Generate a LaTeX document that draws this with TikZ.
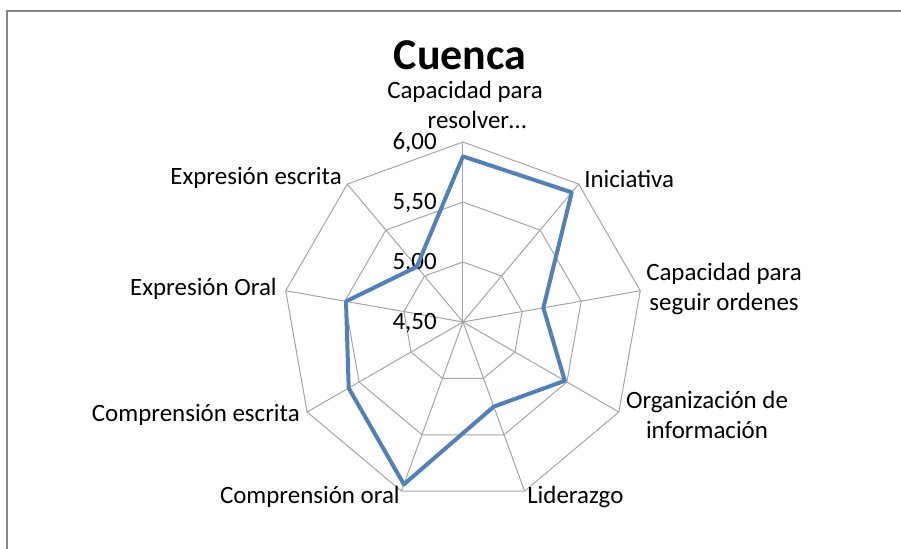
\documentclass[tikz,border=0pt]{standalone}
\usepackage{fontspec}
\setmainfont{Carlito}
\usetikzlibrary{positioning}
\definecolor{gridgray}{RGB}{165,165,165}
\definecolor{framegray}{RGB}{134,134,134}
\definecolor{serieblue}{RGB}{79,129,189}
\newcommand{\lblfont}{\fontsize{18.7}{22}\selectfont}

\begin{document}
\begin{tikzpicture}[x=0.75pt,y=0.75pt,
    gridline/.style={gridgray,line width=0.75pt},
    axislabel/.style={font=\lblfont,align=center,inner sep=0pt},
    ticklabel/.style={font=\lblfont,anchor=east,inner sep=0pt}]
\useasboundingbox (-463,-227) rectangle (438,322);
% === chart frame ===
\draw[framegray,line width=1.5pt] (-456,-240) -- (-456,311) -- (450,311);
\node[font=\fontsize{33}{40}\selectfont\bfseries,inner sep=0pt] (title) at (-3,267) {Cuenca};
% === grid: rings and spokes ===
\foreach \r in {60,120,180} {
    \draw[gridline] (90:\r) \foreach \k in {1,...,8} { -- ({90-40*\k}:\r) } -- cycle;
}
\foreach \k in {0,...,8} {
    \draw[gridline] (0,0) -- ({90-40*\k}:180);
}
% === tick labels ===
\foreach \r/\t in {0/4{,}50,60/5{,}00,120/5{,}50,180/6{,}00} {
    \node[ticklabel] (tick\r) at (-26,\r-1) {\t};
}
% === data series ===
\draw[serieblue,line width=3pt,line join=round]
    (90:{(5.88-4.5)*120})
    \foreach \k/\v in {1/5.91,2/5.18,3/5.48,4/5.25,5/5.94,6/5.60,7/5.49,8/5.10} {
        -- ({90-40*\k}:{(\v-4.5)*120})
    } -- cycle;
% === axis labels ===
\node[axislabel] (resolver) at (2,217) {Capacidad para\\\hspace*{18pt}resolver\ldots};
\node[axislabel,anchor=west] (iniciativa) at (121,143) {Iniciativa};
\node[axislabel] (ordenes) at (261,33) {Capacidad para\\seguir ordenes};
\node[axislabel] (organizacion) at (244,-93) {Organización de\\información};
\node[axislabel,anchor=west] (liderazgo) at (64,-175) {Liderazgo};
\node[axislabel,anchor=east] (comporal) at (-63,-175) {Comprensión oral};
\node[axislabel,anchor=east] (compescrita) at (-163,-93) {Comprensión escrita};
\node[axislabel,anchor=east] (exporal) at (-186,33) {Expresión Oral};
\node[axislabel,anchor=east] (expescrita) at (-121,144) {Expresión escrita};
\end{tikzpicture}
\end{document}
